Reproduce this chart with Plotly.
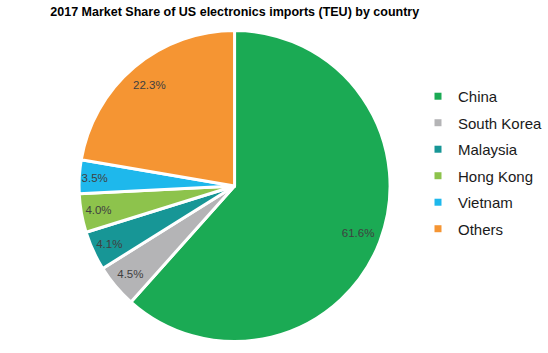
import plotly.graph_objects as go

countries = ["China", "South Korea", "Malaysia", "Hong Kong", "Vietnam", "Others"]
shares = [61.6, 4.5, 4.1, 4.0, 3.5, 22.3]
colors = ["#1BAA54", "#B4B4B6", "#179696", "#8DC34C", "#1EB8EC", "#F59533"]

W, H = 548, 353
FONT = "Liberation Sans, Arial, sans-serif"
dom = dict(x=[80.8 / W, 398.8 / W], y=[0, 1])

fig = go.Figure()

# slices
fig.add_trace(go.Pie(
    labels=countries, values=shares, sort=False,
    direction="clockwise", rotation=0,
    marker=dict(colors=colors, line=dict(color="white", width=3)),
    textinfo="none", hoverinfo="label+percent",
    showlegend=False, domain=dom,
))

# percentage labels placed in the outer ring of the same slices
fig.add_trace(go.Pie(
    labels=countries, values=shares, sort=False,
    direction="clockwise", rotation=0, hole=0.7,
    marker=dict(colors=["rgba(0,0,0,0)"] * len(countries), line=dict(width=0)),
    texttemplate="%{percent:.1%}",
    textposition="inside",
    insidetextorientation="horizontal",
    textfont=dict(family=FONT, size=11.5, color="#404040"),
    hoverinfo="skip", showlegend=False, domain=dom,
))

for name, col in zip(countries, colors):
    fig.add_trace(go.Scatter(
        x=[None], y=[None], mode="markers", name=name,
        marker=dict(symbol="square", size=7, color=col),
        legendgroup=name, showlegend=True,
    ))

fig.update_layout(
    width=W, height=H,
    margin=dict(l=0, r=0, t=27, b=8),
    paper_bgcolor="white",
    plot_bgcolor="white",
    xaxis=dict(visible=False),
    yaxis=dict(visible=False),
    title=dict(
        text="<b>2017 Market Share of US electronics imports (TEU) by country</b>",
        x=240 / W, xanchor="center", xref="paper",
        y=1 - 12 / H, yanchor="middle", yref="container",
        font=dict(family=FONT, size=12.5, color="#000000"),
    ),
    legend=dict(
        x=0.7805, xanchor="left",
        y=0.574, yanchor="middle",
        font=dict(family=FONT, size=15, color="#1a1a1a"),
        tracegroupgap=4,
        bgcolor="rgba(0,0,0,0)",
        traceorder="grouped",
    ),
)

fig.write_html("out.html")
